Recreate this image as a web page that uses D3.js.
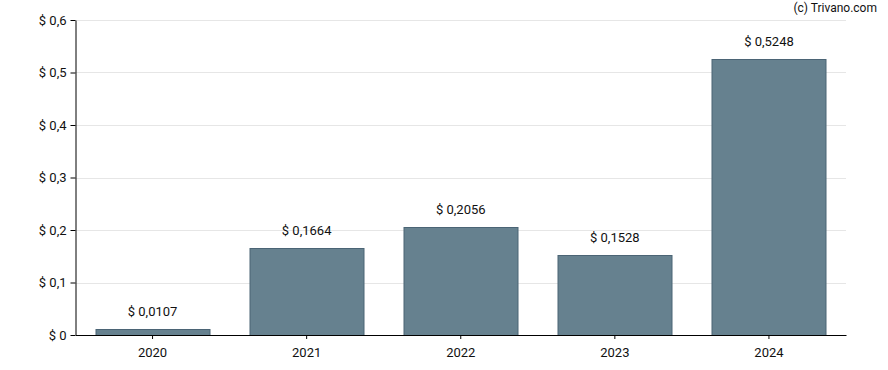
<!DOCTYPE html>
<html>
<head>
  <meta charset="utf-8">
  <title>Dividend per year</title>
  <script src="https://d3js.org/d3.v7.min.js"></script>
  <style>
    body { margin: 0; background: #fff; }
    text { font-family: Roboto, "Liberation Sans", sans-serif; }
  </style>
</head>
<body>
  <div id="chart"></div>
  <script>
    const years = ["2020", "2021", "2022", "2023", "2024"];
    const values = [0.0107, 0.1664, 0.2056, 0.1528, 0.5248];
    const yTicks = [0, 0.1, 0.2, 0.3, 0.4, 0.5, 0.6];

    const data = years.map((y, i) => ({ year: y, value: values[i] }));

    const W = 888, H = 370;
    const margin = { top: 20, right: 42, bottom: 35, left: 75.5 };
    const width = W - margin.left - margin.right;
    const height = H - margin.top - margin.bottom;

    const fmt = v => "$ " + String(v).replace(".", ",");

    const svg = d3.select("#chart")
      .append("svg")
      .attr("width", W)
      .attr("height", H);

    const g = svg.append("g")
      .attr("transform", "translate(" + margin.left + "," + margin.top + ")");

    const x = d3.scaleBand()
      .domain(years)
      .range([0, width])
      .paddingInner(0.26)
      .paddingOuter(0.13);

    const y = d3.scaleLinear()
      .domain([0, 0.6])
      .range([height, 0]);

    // gridlines
    g.selectAll(".grid")
      .data(yTicks.slice(1))
      .enter()
      .append("line")
      .attr("x1", 0)
      .attr("x2", width)
      .attr("y1", d => Math.round(y(d)) + 0.5)
      .attr("y2", d => Math.round(y(d)) + 0.5)
      .attr("stroke", "#e6e6e6");

    g.selectAll(".bar")
      .data(data)
      .enter()
      .append("rect")
      .attr("x", d => Math.round(x(d.year)) + 0.5)
      .attr("y", d => Math.round(y(d.value)) + 0.5)
      .attr("width", Math.round(x.bandwidth()))
      .attr("height", d => Math.round(height - y(d.value)))
      .attr("fill", "#66818f")
      .attr("stroke", "#4b6475");

    g.selectAll(".lbl")
      .data(data)
      .enter()
      .append("text")
      .attr("x", d => x(d.year) + x.bandwidth() / 2)
      .attr("y", d => y(d.value) - 13)
      .attr("text-anchor", "middle")
      .style("font-size", "13px")
      .attr("fill", "#111")
      .text(d => fmt(d.value));

    const xAxis = g.append("g")
      .attr("transform", "translate(0," + height + ")")
      .call(d3.axisBottom(x).tickSize(4).tickSizeOuter(0));
    xAxis.select(".domain").attr("stroke", "#000");
    xAxis.selectAll("text")
      .style("font-size", "13px")
      .attr("fill", "#111")
      .attr("dy", "1.15em");

    const yAxis = g.append("g")
      .call(d3.axisLeft(y).tickValues(yTicks).tickSize(5).tickSizeOuter(0)
        .tickFormat(d => fmt(d)));
    yAxis.select(".domain").attr("stroke", "#000");
    yAxis.selectAll("text")
      .style("font-size", "13px")
      .attr("fill", "#111")
      .attr("x", -9);

    svg.append("text")
      .attr("x", 877)
      .attr("y", 12)
      .attr("text-anchor", "end")
      .style("font-size", "12px")
      .attr("fill", "#111")
      .text("(c) Trivano.com");
  </script>
</body>
</html>
